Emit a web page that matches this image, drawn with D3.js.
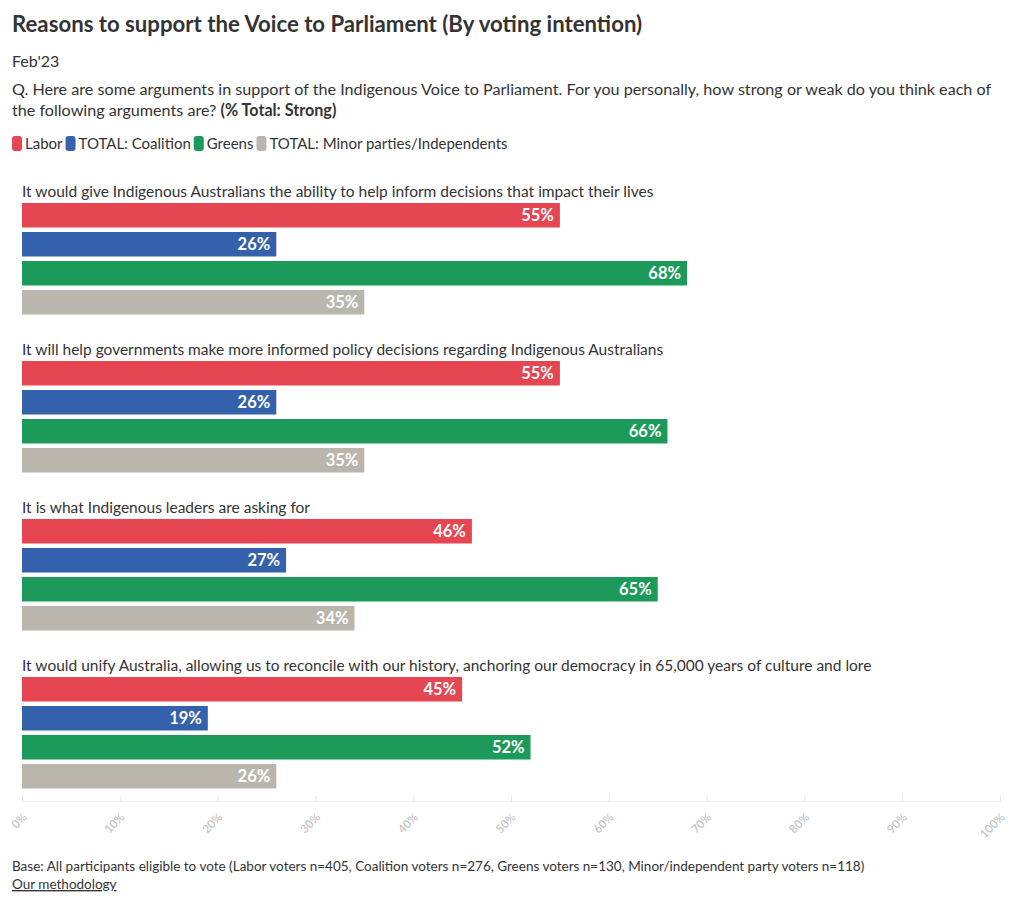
<!DOCTYPE html>
<html><head><meta charset="utf-8">
<script src="https://cdn.jsdelivr.net/npm/d3@7"></script>
<style>
body{margin:0;background:#fff;}
svg text{font-family:Lato,"Source Sans Pro","Noto Sans",sans-serif;}
</style></head>
<body><svg id="c" width="1020" height="903"></svg>
<script>
const categories = [
  "It would give Indigenous Australians the ability to help inform decisions that impact their lives",
  "It will help governments make more informed policy decisions regarding Indigenous Australians",
  "It is what Indigenous leaders are asking for",
  "It would unify Australia, allowing us to reconcile with our history, anchoring our democracy in 65,000 years of culture and lore"
];
const seriesNames = ["Labor","TOTAL: Coalition","Greens","TOTAL: Minor parties/Independents"];
const labor     = [55,55,46,45];
const coalition = [26,26,27,19];
const greens    = [68,66,65,52];
const minor     = [35,35,34,26];
const tickValues = [0,10,20,30,40,50,60,70,80,90,100];
const colors = ["#e64552","#3461ab","#1c9a5a","#bab6ad"];

const seriesValues = [labor, coalition, greens, minor];
const svg = d3.select("#c");
const txt = "#333";

svg.append("text").attr("x",12).attr("y",32).attr("font-size",22.2).attr("font-weight",700).attr("fill",txt)
  .text("Reasons to support the Voice to Parliament (By voting intention)");
svg.append("text").attr("x",12).attr("y",67).attr("font-size",16).attr("fill",txt).text("Feb'23");
svg.append("text").attr("x",12).attr("y",95).attr("font-size",16.15).attr("fill",txt)
  .text("Q. Here are some arguments in support of the Indigenous Voice to Parliament. For you personally, how strong or weak do you think each of");
const q2 = svg.append("text").attr("x",12).attr("y",116).attr("font-size",16.15).attr("fill",txt);
q2.append("tspan").text("the following arguments are? ");
q2.append("tspan").attr("font-weight",700).text("(% Total: Strong)");

// legend
let lx = 12;
seriesNames.forEach((n,i)=>{
  svg.append("rect").attr("x",lx).attr("y",136).attr("width",10).attr("height",15).attr("rx",3).attr("fill",colors[i]);
  const t = svg.append("text").attr("x",lx+13).attr("y",149).attr("font-size",15).attr("fill",txt).text(n);
  lx += 13 + t.node().getComputedTextLength() + 3;
});

const x = d3.scaleLinear().domain([0,100]).range([22,1000]);
const groupY = d3.scaleBand().domain(d3.range(categories.length)).range([180,812]).paddingInner(0).paddingOuter(0);
const barY = d3.scaleBand().domain(d3.range(4)).range([23,134.5]).paddingInner(0.155).paddingOuter(0);

categories.forEach((c,gi)=>{
  const g = svg.append("g").attr("transform",`translate(0,${groupY(gi)})`);
  g.append("text").attr("x",22).attr("y",16.5).attr("font-size",15.5).attr("fill",txt).text(c);
  seriesValues.forEach((vals,si)=>{
    const v = vals[gi];
    g.append("rect").attr("x",x(0)).attr("y",barY(si)).attr("width",x(v)-x(0)).attr("height",barY.bandwidth()).attr("fill",colors[si]);
    g.append("text").attr("x",x(v)-6).attr("y",barY(si)+barY.bandwidth()/2+6).attr("text-anchor","end")
      .attr("font-size",16.5).attr("font-weight",700).attr("fill","#fff").text(v+"%");
  });
});

// axis
const ax = svg.append("g").attr("transform","translate(0,801)")
  .call(d3.axisBottom(x).tickValues(tickValues).tickFormat(d=>d+"%").tickSize(5).tickSizeOuter(0));
ax.select(".domain").attr("stroke","#eee");
ax.selectAll(".tick line").attr("stroke","#e6e6e6").attr("y1",-5).attr("y2",0);
ax.selectAll(".tick text").attr("fill","#bbb").attr("font-size",11.5).attr("font-family","Lato,sans-serif")
  .attr("text-anchor","end").attr("dy",0).attr("y",0)
  .attr("transform","translate(5,17) rotate(-45)");

svg.append("text").attr("x",12).attr("y",871).attr("font-size",13.5).attr("fill",txt)
  .text("Base: All participants eligible to vote (Labor voters n=405, Coalition voters n=276, Greens voters n=130, Minor/independent party voters n=118)");
svg.append("text").attr("x",12).attr("y",889).attr("font-size",13.5).attr("fill",txt).attr("text-decoration","underline")
  .text("Our methodology");
</script></body></html>
